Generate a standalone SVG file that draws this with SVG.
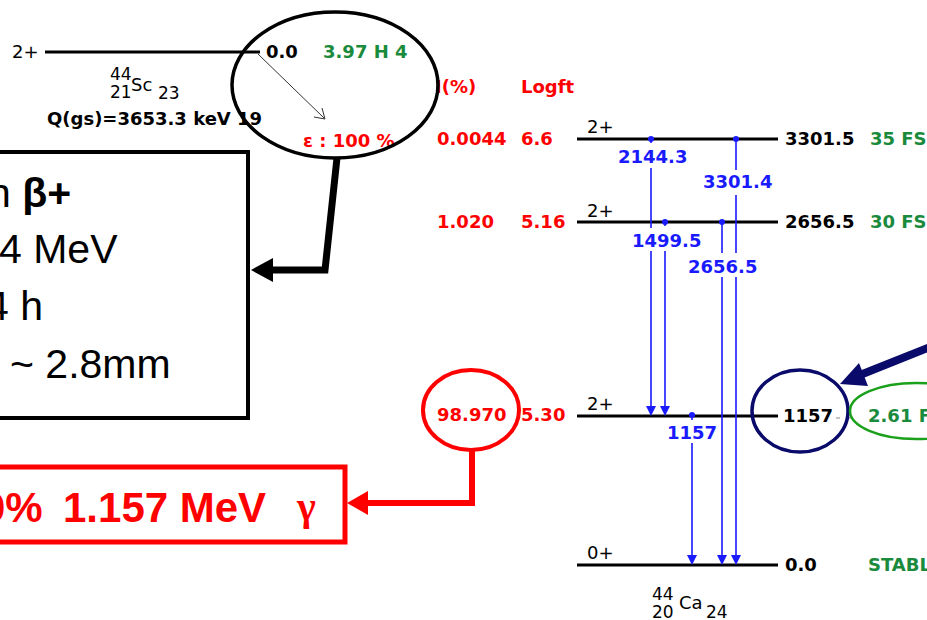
<svg xmlns="http://www.w3.org/2000/svg" width="927" height="620" viewBox="0 0 927 620">
<style>
.lv{font-family:"DejaVu Sans",Verdana,sans-serif;font-size:18px;font-weight:bold}
.lvn{font-family:"DejaVu Sans",Verdana,sans-serif;font-size:18px}
.sm{font-family:"DejaVu Sans",Verdana,sans-serif;font-size:17px}
.red{fill:#ff0000}
.grn{fill:#1a8a3c}
.blk{fill:#000}
.blu{fill:#1a1aff}
.level{stroke:#000;stroke-width:3}
.gam{stroke:#1a1aff;stroke-width:1.6;fill:none}
.big{font-family:"Liberation Sans",Arial,sans-serif;font-size:41px;fill:#000}
</style>
<defs>
<polygon id="ah" points="0,0 -5,-10 5,-10" fill="#1a1aff"/>
<circle id="dot" r="3" fill="#1a1aff"/>
</defs>
<rect width="927" height="620" fill="#fff"/>

<g id="sc44">
<text class="lvn blk" x="12" y="58">2+</text>
<line class="level" x1="45" y1="52" x2="260" y2="52"/>
<text class="lv blk" x="266" y="58">0.0</text>
<text class="lv grn" x="323" y="58">3.97 H 4</text>
<text class="sm blk" x="110" y="80">44</text>
<text class="sm blk" x="110" y="98">21</text>
<text class="lvn blk" x="131" y="91">Sc</text>
<text class="sm blk" x="158" y="99">23</text>
<text class="lv blk" x="47" y="125">Q(gs)=3653.3 keV 19</text>
<text class="lv red" x="303" y="147">ε : 100 %</text>
</g>

<g id="headers">
<text class="lv red" x="435" y="93">I(%)</text>
<text class="lv red" x="521" y="93">Logft</text>
</g>

<g id="lvl3301">
<text class="lv red" x="437" y="145">0.0044</text>
<text class="lv red" x="521" y="145">6.6</text>
<text class="lvn blk" x="587" y="133">2+</text>
<line class="level" x1="577" y1="139" x2="778" y2="139"/>
<text class="lv blk" x="785" y="145">3301.5</text>
<text class="lv grn" x="870" y="145">35 FS</text>
</g>

<g id="lvl2656">
<text class="lv red" x="437" y="228">1.020</text>
<text class="lv red" x="521" y="228">5.16</text>
<text class="lvn blk" x="587" y="217">2+</text>
<line class="level" x1="577" y1="222" x2="778" y2="222"/>
<text class="lv blk" x="785" y="228">2656.5</text>
<text class="lv grn" x="870" y="228">30 FS</text>
</g>

<g id="lvl1157">
<text class="lv red" x="437" y="421">98.970</text>
<text class="lv red" x="521" y="421">5.30</text>
<text class="lvn blk" x="587" y="410">2+</text>
<line class="level" x1="577" y1="416" x2="778" y2="416"/>
<text class="lv blk" x="783" y="422">1157</text>
<line x1="836" y1="418" x2="840" y2="418" stroke="#888" stroke-width="1"/>
<line x1="848" y1="418" x2="852" y2="418" stroke="#888" stroke-width="1"/>
<text class="lv grn" x="868" y="422">2.61 FS</text>
</g>

<g id="lvl0">
<text class="lvn blk" x="587" y="559">0+</text>
<line class="level" x1="577" y1="565" x2="778" y2="565"/>
<text class="lv blk" x="785" y="571">0.0</text>
<text class="lv grn" x="868" y="571">STABLE</text>
<text class="sm blk" x="652" y="600">44</text>
<text class="sm blk" x="652" y="618">20</text>
<text class="lvn blk" x="679" y="609">Ca</text>
<text class="sm blk" x="706" y="618">24</text>
</g>

<g id="gamma-labels">
<text class="lv blu" x="618" y="163">2144.3</text>
<text class="lv blu" x="703" y="188">3301.4</text>
<text class="lv blu" x="632" y="247">1499.5</text>
<text class="lv blu" x="688" y="273">2656.5</text>
<text class="lv blu" x="667" y="439">1157</text>
</g>

<g id="positron-box">
<rect x="-10" y="152" width="258" height="266" fill="none" stroke="#000" stroke-width="4"/>
<text class="big" x="-12" y="207">n <tspan font-weight="bold">β+</tspan></text>
<text class="big" x="-1" y="263">4 MeV</text>
<text class="big" x="-14" y="320">4 h</text>
<text class="big" x="10" y="378">~ 2.8mm</text>
</g>

<g id="gamma-box">
<rect x="-10" y="467" width="355" height="75" fill="none" stroke="#ff0000" stroke-width="5"/>
<text font-family="Liberation Sans,Arial,sans-serif" font-size="42" font-weight="bold" fill="#ff0000" x="-18" y="522">0%</text>
<text font-family="Liberation Sans,Arial,sans-serif" font-size="42" font-weight="bold" fill="#ff0000" x="63" y="522">1.157 MeV</text>
<text font-family="Liberation Serif,Times New Roman,serif" font-size="40" font-weight="bold" fill="#ff0000" x="297" y="520">γ</text>
</g>

<g id="highlights" fill="none">
<ellipse cx="335" cy="85" rx="103" ry="73" stroke="#000" stroke-width="3.5"/>
<ellipse cx="471" cy="410" rx="48" ry="40" stroke="#ff0000" stroke-width="4"/>
<ellipse cx="800" cy="411" rx="48" ry="41" stroke="#0a0a6a" stroke-width="3.5"/>
<ellipse cx="916" cy="411" rx="66" ry="28" stroke="#1aa01a" stroke-width="2.5"/>
</g>

<g id="connectors">
<line x1="258" y1="54" x2="324" y2="118" stroke="#333" stroke-width="1"/>
<polyline points="314,117 325,119 322,108" fill="none" stroke="#333" stroke-width="1"/>
<path class="gam" d="M651,139V143M651,168V228M651,251V406"/>
<use href="#ah" x="651" y="416"/>
<use href="#dot" x="651" y="139"/>
<path class="gam" d="M665,222V226M665,251V406"/>
<use href="#ah" x="665" y="416"/>
<use href="#dot" x="665" y="222"/>
<path class="gam" d="M736,139V170M736,195V253M736,277V555"/>
<use href="#ah" x="736" y="565"/>
<use href="#dot" x="736" y="139"/>
<path class="gam" d="M722,222V253M722,277V555"/>
<use href="#ah" x="722" y="565"/>
<use href="#dot" x="722" y="222"/>
<path class="gam" d="M692,415V420M692,443V555"/>
<use href="#ah" x="692" y="565"/>
<use href="#dot" x="692" y="415"/>
<polyline points="337,158 325,270 270,270" fill="none" stroke="#000" stroke-width="7"/>
<polygon points="251,270 273,258 273,282" fill="#000"/>
<polyline points="472,450 472,503 366,503" fill="none" stroke="#ff0000" stroke-width="6"/>
<polygon points="347,503 368,491 368,515" fill="#ff0000"/>
<line x1="940" y1="343" x2="860" y2="375" stroke="#0a0a6a" stroke-width="8"/>
<polygon points="840,384 868,386 859,363" fill="#0a0a6a"/>
</g>
</svg>
